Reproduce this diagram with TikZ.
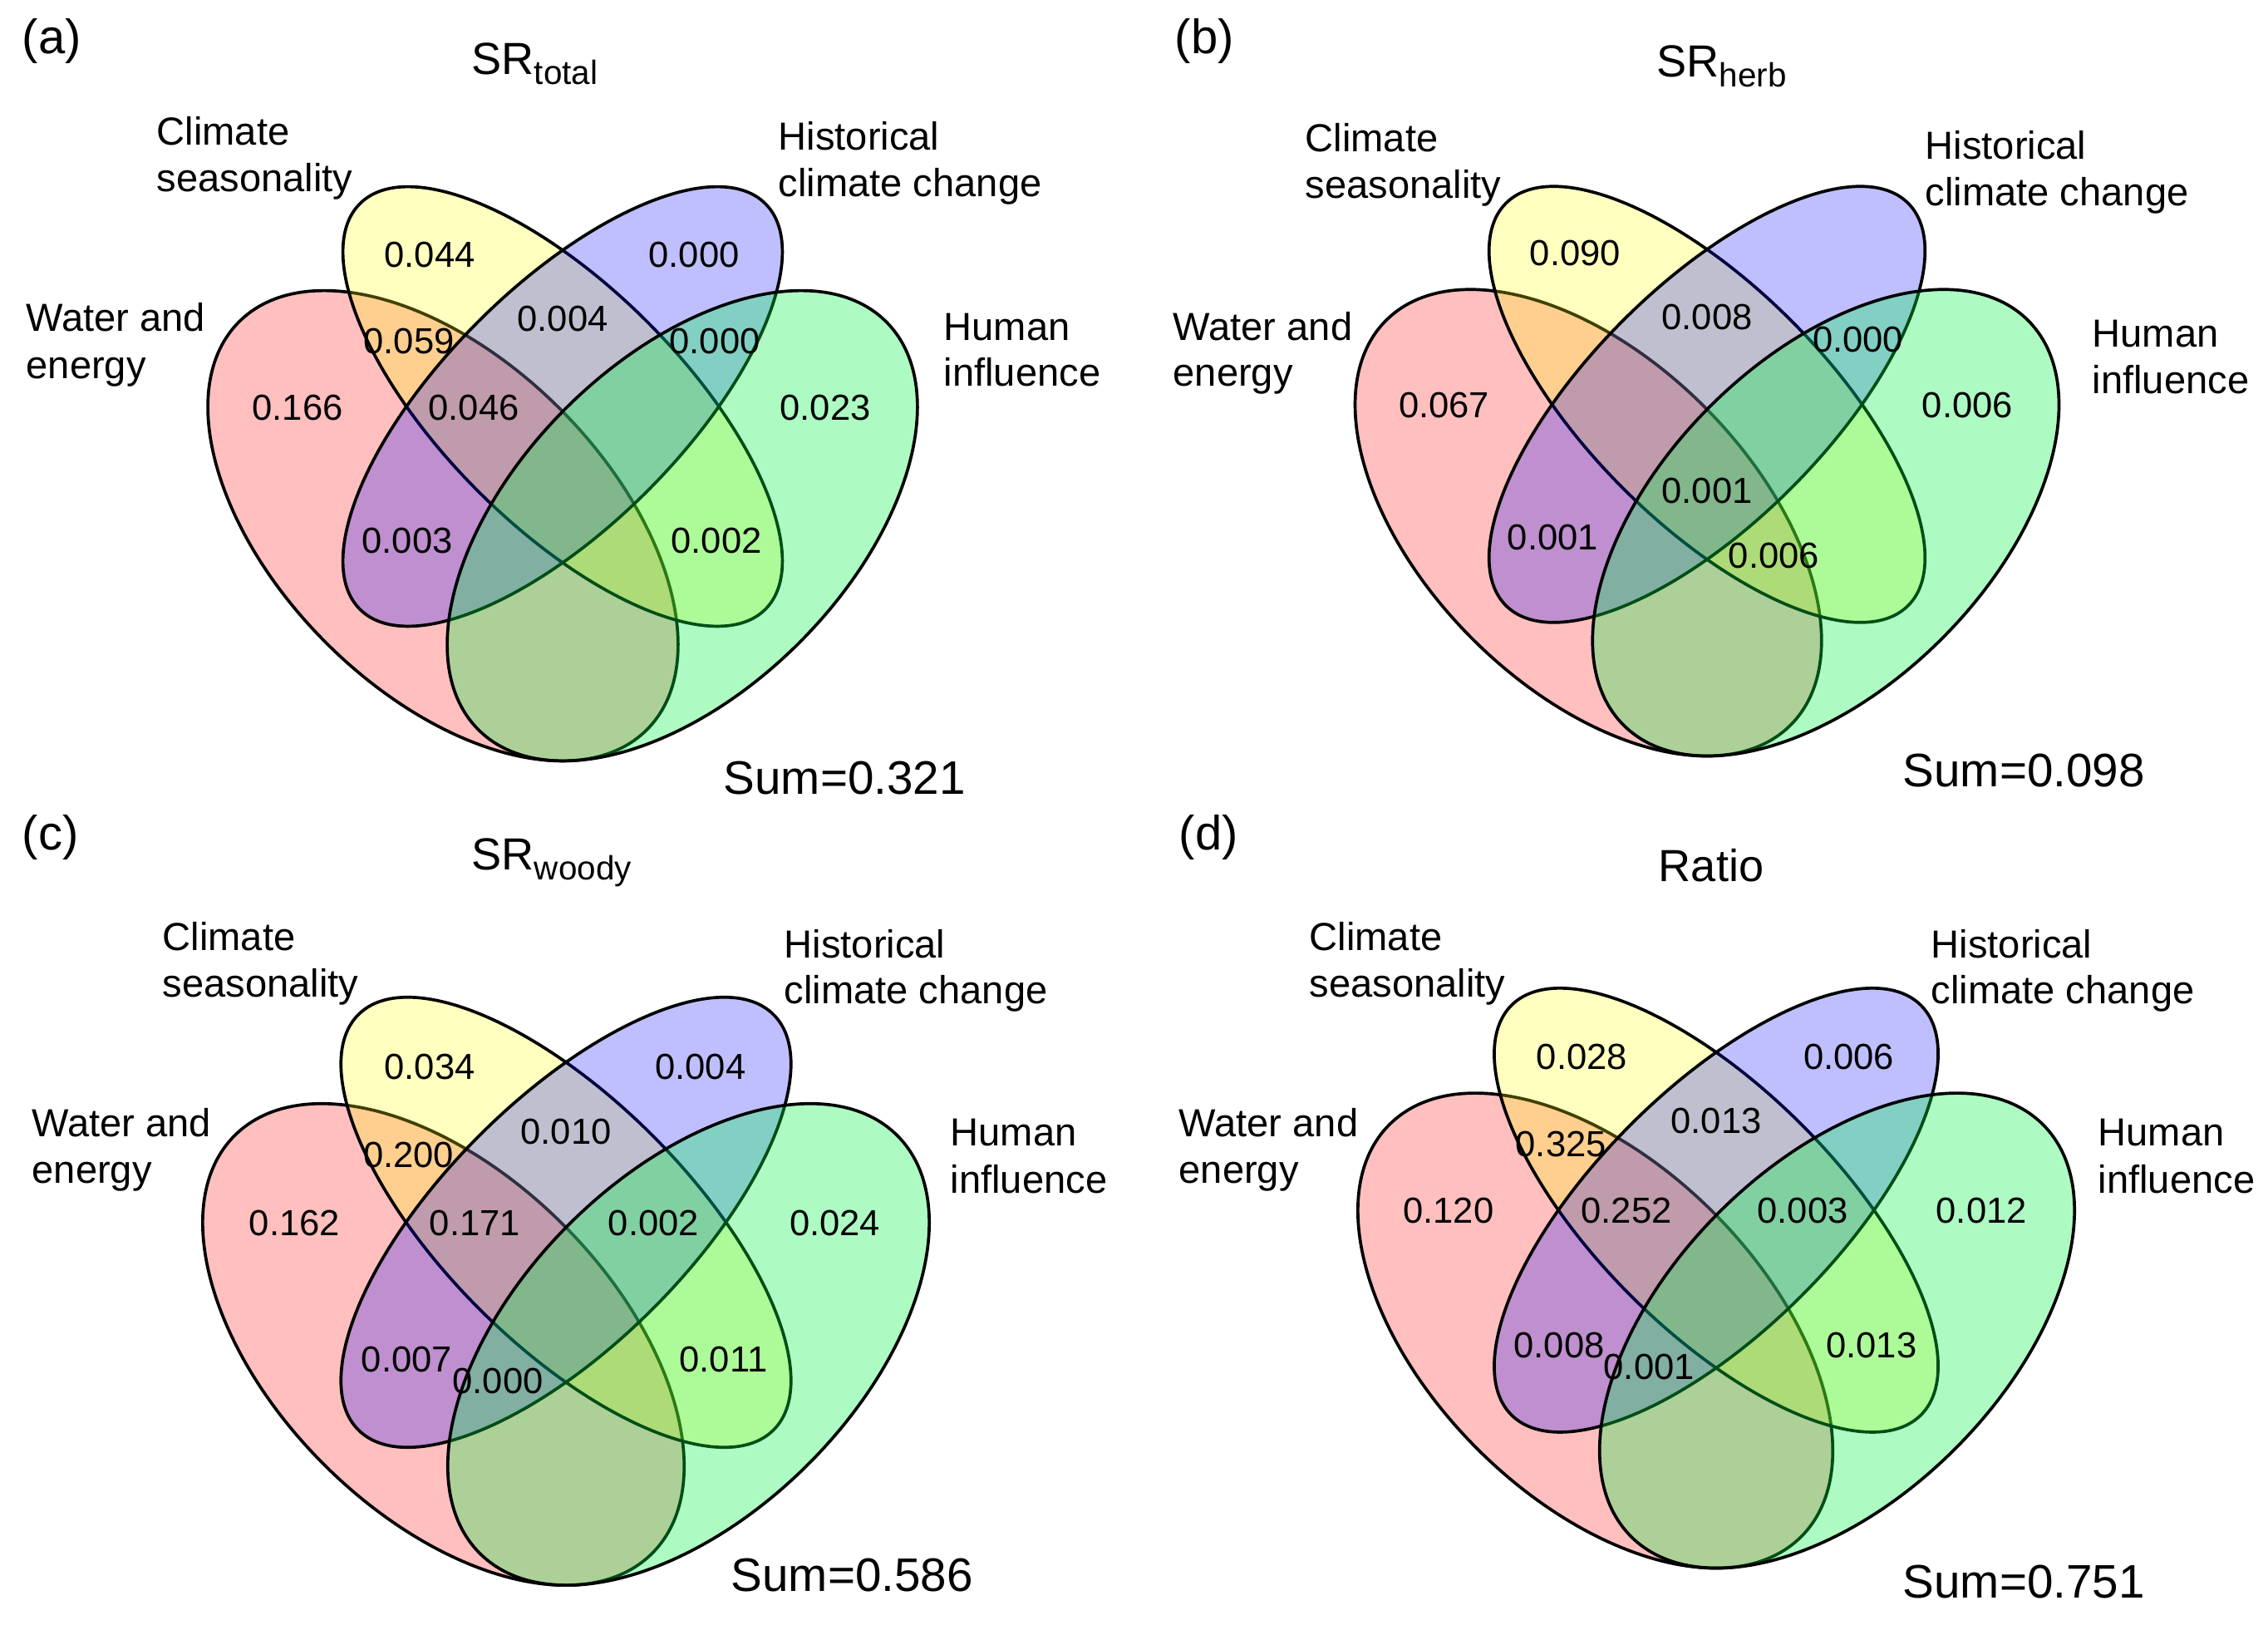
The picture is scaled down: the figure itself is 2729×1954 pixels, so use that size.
\documentclass[tikz,border=0pt]{standalone}
\usepackage{fontspec}
\setmainfont{Liberation Sans}
\definecolor{cRed}{RGB}{255,0,0}
\definecolor{cYel}{RGB}{255,255,0}
\definecolor{cBlu}{RGB}{0,0,255}
\definecolor{cGrn}{RGB}{0,245,70}
\newcommand\vennEllipses{%
  \filldraw[vred,rotate around={-45:(533,632.5)}] (533,632.5) ellipse [x radius=347,y radius=199];
  \filldraw[vyel,rotate around={-45:(677,489)}] (677,489) ellipse [x radius=345,y radius=144];
  \filldraw[vblu,rotate around={45:(677,489)}] (677,489) ellipse [x radius=345,y radius=144];
  \filldraw[vgrn,rotate around={45:(821,632.5)}] (821,632.5) ellipse [x radius=347,y radius=199];
}
\begin{document}
\begin{tikzpicture}[x=0.1mm,y=-0.1mm,
  lab/.style={anchor=base west,inner sep=0pt,font=\fontsize{13.4pt}{16pt}\selectfont},
  num/.style={anchor=center,inner sep=0pt,font=\fontsize{12.4pt}{14pt}\selectfont},
  sumlab/.style={anchor=base west,inner sep=0pt,font=\fontsize{16.1pt}{19pt}\selectfont},
  ttl/.style={anchor=base west,inner sep=0pt,font=\fontsize{15.4pt}{18pt}\selectfont},
  ttlc/.style={anchor=base,inner sep=0pt,font=\fontsize{15.4pt}{18pt}\selectfont},
  panlab/.style={anchor=base west,inner sep=0pt,font=\fontsize{16.5pt}{19pt}\selectfont},
  vline/.style={draw=black,line width=1.05pt},
  vred/.style={vline,fill=cRed,fill opacity=0.25},
  vyel/.style={vline,fill=cYel,fill opacity=0.25},
  vblu/.style={vline,fill=cBlu,fill opacity=0.25},
  vgrn/.style={vline,fill=cGrn,fill opacity=0.32}]
\useasboundingbox (0,0) rectangle (2729,1954);
\fill[white] (0,0) rectangle (2729,1954);

% ---------------- panel (a)
\begin{scope}
  \vennEllipses
  \node[num] (a1) at (517,306) {0.044};
  \node[num] (a2) at (835,306) {0.000};
  \node[num] (a3) at (492,410) {0.059};
  \node[num] (a4) at (677,383) {0.004};
  \node[num] (a5) at (860,410) {0.000};
  \node[num] (a6) at (358,490) {0.166};
  \node[num] (a7) at (570,490) {0.046};
  \node[num] (a8) at (993,490) {0.023};
  \node[num] (a9) at (490,650) {0.003};
  \node[num] (a10) at (862,650) {0.002};
\end{scope}
\node[panlab] (pa) at (26,64) {(a)};
\node[ttl] (ta) at (567,89) {SR\raisebox{-1.2mm}{\fontsize{11.5pt}{13pt}\selectfont total}};
\node[lab] (a-c1) at (188,174) {Climate};
\node[lab] (a-c2) at (188,230) {seasonality};
\node[lab] (a-h1) at (936,180) {Historical};
\node[lab] (a-h2) at (936,236) {climate change};
\node[lab] (a-w1) at (31,398) {Water and};
\node[lab] (a-w2) at (31,455) {energy};
\node[lab] (a-u1) at (1135,409) {Human};
\node[lab] (a-u2) at (1135,464) {influence};
\node[sumlab] (a-s) at (870,955) {Sum=0.321};

% ---------------- panel (b)
\begin{scope}[shift={(2054,302)},scale=0.992,shift={(-677,-303)}]
  \vennEllipses
  \node[num] (b1) at (517,306) {0.090};
  \node[num] (b2) at (677,383) {0.008};
  \node[num] (b3) at (860,410) {0.000};
  \node[num] (b4) at (358,490) {0.067};
  \node[num] (b5) at (993,490) {0.006};
  \node[num] (b6) at (677,594) {0.001};
  \node[num] (b7) at (490,650) {0.001};
  \node[num] (b8) at (758,672) {0.006};
\end{scope}
\node[panlab] (pb) at (1413,64) {(b)};
\node[ttl] (tb) at (1993,92) {SR\raisebox{-1.2mm}{\fontsize{11.5pt}{13pt}\selectfont herb}};
\node[lab] (b-c1) at (1570,182) {Climate};
\node[lab] (b-c2) at (1570,238) {seasonality};
\node[lab] (b-h1) at (2316,191) {Historical};
\node[lab] (b-h2) at (2316,247) {climate change};
\node[lab] (b-w1) at (1411,409) {Water and};
\node[lab] (b-w2) at (1411,464) {energy};
\node[lab] (b-u1) at (2517,417) {Human};
\node[lab] (b-u2) at (2517,473) {influence};
\node[sumlab] (b-s) at (2289,946) {Sum=0.098};

% ---------------- panel (c)
\begin{scope}[shift={(681,1280)},scale=1.024,shift={(-677,-303)}]
  \vennEllipses
  \node[num] (c1) at (517,306) {0.034};
  \node[num] (c2) at (835,306) {0.004};
  \node[num] (c3) at (492,410) {0.200};
  \node[num] (c4) at (677,383) {0.010};
  \node[num] (c5) at (358,490) {0.162};
  \node[num] (c6) at (570,490) {0.171};
  \node[num] (c7) at (780,490) {0.002};
  \node[num] (c8) at (993,490) {0.024};
  \node[num] (c9) at (490,650) {0.007};
  \node[num] (c10) at (597,676) {0.000};
  \node[num] (c11) at (862,650) {0.011};
\end{scope}
\node[panlab] (pc) at (26,1022) {(c)};
\node[ttl] (tc) at (567,1046) {SR\raisebox{-1.2mm}{\fontsize{11.5pt}{13pt}\selectfont woody}};
\node[lab] (c-c1) at (195,1143) {Climate};
\node[lab] (c-c2) at (195,1199) {seasonality};
\node[lab] (c-h1) at (943,1152) {Historical};
\node[lab] (c-h2) at (943,1207) {climate change};
\node[lab] (c-w1) at (38,1367) {Water and};
\node[lab] (c-w2) at (38,1423) {energy};
\node[lab] (c-u1) at (1143,1378) {Human};
\node[lab] (c-u2) at (1143,1435) {influence};
\node[sumlab] (c-s) at (879,1914) {Sum=0.586};

% ---------------- panel (d)
\begin{scope}[shift={(2065,1268)},scale=1.01,shift={(-677,-303)}]
  \vennEllipses
  \node[num] (d1) at (517,306) {0.028};
  \node[num] (d2) at (835,306) {0.006};
  \node[num] (d3) at (492,410) {0.325};
  \node[num] (d4) at (677,383) {0.013};
  \node[num] (d5) at (358,490) {0.120};
  \node[num] (d6) at (570,490) {0.252};
  \node[num] (d7) at (780,490) {0.003};
  \node[num] (d8) at (993,490) {0.012};
  \node[num] (d9) at (490,650) {0.008};
  \node[num] (d10) at (597,676) {0.001};
  \node[num] (d11) at (862,650) {0.013};
\end{scope}
\node[panlab] (pd) at (1418,1022) {(d)};
\node[ttlc] (td) at (2059,1060) {Ratio};
\node[lab] (d-c1) at (1575,1143) {Climate};
\node[lab] (d-c2) at (1575,1199) {seasonality};
\node[lab] (d-h1) at (2323,1152) {Historical};
\node[lab] (d-h2) at (2323,1207) {climate change};
\node[lab] (d-w1) at (1418,1367) {Water and};
\node[lab] (d-w2) at (1418,1423) {energy};
\node[lab] (d-u1) at (2524,1378) {Human};
\node[lab] (d-u2) at (2524,1435) {influence};
\node[sumlab] (d-s) at (2289,1922) {Sum=0.751};
\end{tikzpicture}
\end{document}
